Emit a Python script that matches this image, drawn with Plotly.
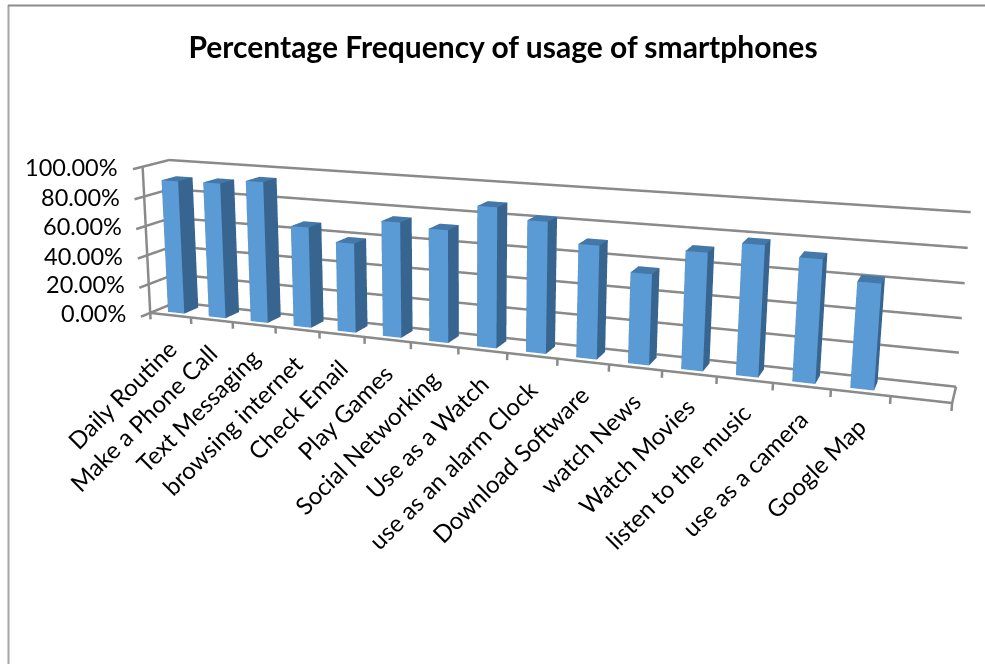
import numpy as np
import plotly.graph_objects as go

# Usage survey results, one value per activity (fractions of respondents)
categories = ["Daily Routine", "Make a Phone Call", "Text Messaging", "browsing internet",
              "Check Email", "Play Games", "Social Networking", "Use as a Watch",
              "use as an alarm Clock", "Download Software", "watch News", "Watch Movies",
              "listen to the music", "use as a camera", "Google Map"]
values = [0.905, 0.91, 0.94, 0.665, 0.585, 0.745, 0.72, 0.885, 0.82, 0.70, 0.555, 0.71, 0.78, 0.725, 0.615]
z_ticks = [0.0, 0.2, 0.4, 0.6, 0.8, 1.0]

BAR_FRONT = "#5B9BD5"
BAR_SIDE = "#386590"
BAR_TOP = "#4478A8"
GRID = "#8A8A8A"
FONT = "Lato"

N_SLOTS = 16          # the category axis keeps one empty slot after the last bar
BAR_W = 0.20          # half width of a bar, in category units
BAR_D = 0.28          # half depth of a bar, in floor-depth units

VIEW_REF = [
    ((0, 0, 1), (140, 167)), ((0, 0, .8), (143, 197)), ((0, 0, .6), (145, 226)),
    ((0, 0, .4), (147, 254)), ((0, 0, .2), (150, 283)), ((0, 0, 0), (153, 312)),
    ((0, 1, 1), (172, 160)), ((0, 1, .8), (172, 189)), ((0, 1, .6), (172, 218)),
    ((0, 1, .4), (173, 247)), ((0, 1, .2), (173, 275)), ((0, 1, 0), (173, 303)),
    ((1, 1, 1), (970, 212)), ((1, 1, .8), (968, 248)), ((1, 1, .6), (965, 283)),
    ((1, 1, .4), (962, 318)), ((1, 1, .2), (959, 352)), ((1, 1, 0), (956, 385)),
    ((1, 0, 0), (952, 405)), ((.5, 0, 0), (507, 353)), ((.25, 0, 0), (321, 332)),
    ((.75, 0, 0), (716, 378)),
]


def solve_view():
    rows = []
    for (u, v, w), (px, py) in VIEW_REF:
        X = [u, v, w, 1]
        rows.append(X + [0, 0, 0, 0] + [-px / 1000 * c for c in X])
        rows.append([0, 0, 0, 0] + X + [-py / 1000 * c for c in X])
    P = np.linalg.svd(np.array(rows, float))[2][-1].reshape(3, 4)
    P[:2] *= 1000
    P /= P[2] @ np.array([.5, .5, .5, 1])
    f = 332 / np.tan(np.pi / 8)
    return np.array([
        (P[0] - 492.5 * P[2]) / f,
        P[2] - np.array([0, 0, 0, 1.0]),
        (332 * P[2] - P[1]) / f,
    ])


VIEW = solve_view()


def place(cat, depth, val):
    """Scene coordinates of a point given by category slot, floor depth and value."""
    return VIEW @ np.array([cat / N_SLOTS, depth, val, 1.0])


def bar_mesh(i, v):
    x0, x1 = i + 0.5 - BAR_W, i + 0.5 + BAR_W
    y0, y1 = 0.5 - BAR_D, 0.5 + BAR_D
    corners = [(x0, y0, 0), (x1, y0, 0), (x1, y1, 0), (x0, y1, 0),
               (x0, y0, v), (x1, y0, v), (x1, y1, v), (x0, y1, v)]
    pts = np.array([place(*c) for c in corners])
    faces = [
        (0, 1, 5, BAR_FRONT), (0, 5, 4, BAR_FRONT),
        (1, 2, 6, BAR_SIDE), (1, 6, 5, BAR_SIDE),
        (0, 3, 7, BAR_SIDE), (0, 7, 4, BAR_SIDE),
        (3, 2, 6, BAR_FRONT), (3, 6, 7, BAR_FRONT),
        (4, 5, 6, BAR_TOP), (4, 6, 7, BAR_TOP),
    ]
    return go.Mesh3d(
        x=pts[:, 0], y=pts[:, 1], z=pts[:, 2],
        i=[f[0] for f in faces], j=[f[1] for f in faces], k=[f[2] for f in faces],
        facecolor=[f[3] for f in faces], flatshading=True, showscale=False,
        lighting=dict(ambient=1, diffuse=0, specular=0, fresnel=0, roughness=1),
        hoverinfo="skip",
    )


def frame_lines():
    xs, ys, zs = [], [], []

    def seg(a, b):
        for p in (place(*a), place(*b)):
            xs.append(p[0]); ys.append(p[1]); zs.append(p[2])
        xs.append(None); ys.append(None); zs.append(None)

    for t in z_ticks:
        seg((0, 1, t), (N_SLOTS, 1, t))     # back wall
        seg((0, -0.35, t), (0, 1, t))       # left wall and value-axis tick
    seg((0, 0, 0), (0, 0, 1))               # value axis
    seg((0, 0, 0), (N_SLOTS, 0, 0))         # category axis
    seg((N_SLOTS, 0, 0), (N_SLOTS, 1, 0))   # floor, right edge
    for i in range(N_SLOTS + 1):
        seg((i, 0, 0), (i, 0, -0.045))      # category ticks
    return go.Scatter3d(x=xs, y=ys, z=zs, mode="lines", hoverinfo="skip",
                        line=dict(color=GRID, width=5))


fig = go.Figure([frame_lines()] + [bar_mesh(i, v) for i, v in enumerate(values)])

hidden = dict(visible=False, showgrid=False, zeroline=False, showbackground=False,
              showticklabels=False, showspikes=False, title="", range=[-1, 1])


def note(p, **kw):
    return dict(x=p[0], y=p[1], z=p[2], showarrow=False, **kw)


annotations = [
    note(place(i + 0.5, 0, 0), text=name, textangle=-45, xanchor="right", yanchor="top",
         xshift=14, yshift=-16, font=dict(family=FONT, size=24, color="black"))
    for i, name in enumerate(categories)
] + [
    note(place(-0.2, 0, t), text=f"{t:.2%}", xanchor="right", xshift=-14, yshift=-1,
         font=dict(family=FONT, size=23.5, color="black"))
    for t in z_ticks
]

fig.update_layout(
    width=985, height=664, margin=dict(l=0, r=0, t=0, b=0),
    paper_bgcolor="white", showlegend=False,
    title=dict(text="<b>Percentage Frequency of usage of smartphones</b>",
               x=503 / 985, xanchor="center", y=1 - 47 / 664, yanchor="middle",
               font=dict(family=FONT, size=30, color="black")),
    scene=dict(
        domain=dict(x=[0, 1], y=[0, 1]),
        xaxis=hidden, yaxis=hidden, zaxis=hidden,
        aspectmode="manual",
        aspectratio=dict(x=2, y=2, z=2),
        camera=dict(eye=dict(x=0, y=-1, z=0), center=dict(x=0, y=0, z=0),
                    up=dict(x=0, y=0, z=1), projection=dict(type="perspective")),
        annotations=annotations,
    ),
    shapes=[
        dict(type="line", xref="paper", yref="paper", x0=8.5 / 985, x1=8.5 / 985,
             y0=0, y1=1 - 5 / 664, line=dict(color="#A6A6A6", width=2)),
        dict(type="line", xref="paper", yref="paper", x0=8 / 985, x1=1,
             y0=1 - 5.5 / 664, y1=1 - 5.5 / 664, line=dict(color="#8C8C8C", width=2)),
    ],
)

fig.write_html("out.html")

print(np.round(VIEW, 6).tolist())
